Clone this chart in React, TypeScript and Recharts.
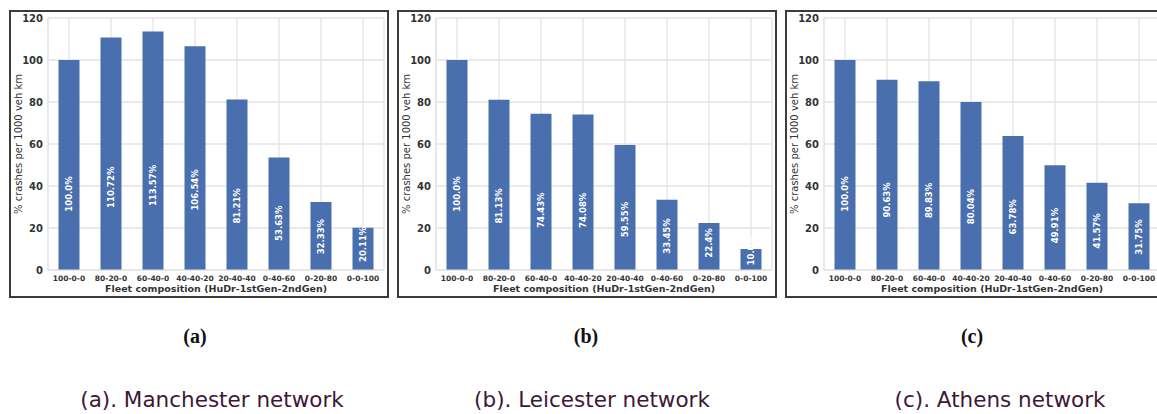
import React from 'react';
import { BarChart, Bar, XAxis, YAxis, CartesianGrid, LabelList } from 'recharts';

const categories = ['100-0-0', '80-20-0', '60-40-0', '40-40-20', '20-40-40', '0-40-60', '0-20-80', '0-0-100'];

const manchesterValues = [100.0, 110.72, 113.57, 106.54, 81.21, 53.63, 32.33, 20.11];
const manchesterLabels = ['100.0%', '110.72%', '113.57%', '106.54%', '81.21%', '53.63%', '32.33%', '20.11%'];

const leicesterValues = [100.0, 81.13, 74.43, 74.08, 59.55, 33.45, 22.4, 10.0];
const leicesterLabels = ['100.0%', '81.13%', '74.43%', '74.08%', '59.55%', '33.45%', '22.4%', '10.0%'];

const athensValues = [100.0, 90.63, 89.83, 80.04, 63.78, 49.91, 41.57, 31.75];
const athensLabels = ['100.0%', '90.63%', '89.83%', '80.04%', '63.78%', '49.91%', '41.57%', '31.75%'];

const yTicks = [0, 20, 40, 60, 80, 100, 120];

const FONT = '"DejaVu Sans", Verdana, sans-serif';
const BAR_COLOR = '#4a6fae';
const GRID = '#e3e3e3';

const buildData = (values: number[], labels: string[]) =>
  categories.map((c, i) => ({ name: c, value: values[i], label: labels[i] }));

// rotated white label sitting in the lower part of each bar
const BarText = (props: any) => {
  const { x, y, width, height, value } = props;
  const cx = x + width / 2;
  const cy = y + height - (0.3 * height + 13);
  return (
    <text
      x={cx}
      y={cy}
      transform={`rotate(-90 ${cx} ${cy})`}
      textAnchor="middle"
      dominantBaseline="central"
      fill="#ffffff"
      fontSize={8.5}
      fontWeight={600}
      fontFamily={FONT}
    >
      {value}
    </text>
  );
};

const Panel: React.FC<{ left: number; values: number[]; labels: string[] }> = ({ left, values, labels }) => {
  const data = buildData(values, labels);
  return (
    <>
      <div style={{ position: 'absolute', left, top: 10 }}>
        <BarChart
          width={380}
          height={287}
          data={data}
          margin={{ top: 8, right: 5, left: 0, bottom: 0 }}
          barCategoryGap="25%"
        >
          <CartesianGrid stroke={GRID} strokeWidth={1.3} />
          <XAxis
            dataKey="name"
            height={27}
            tickLine={false}
            tickSize={4}
            tickMargin={2}
            axisLine={{ stroke: GRID }}
            interval={0}
            tick={{ fontSize: 7.5, fontWeight: 700, fill: '#333', fontFamily: FONT }}
            label={{
              value: 'Fleet composition (HuDr-1stGen-2ndGen)',
              position: 'insideBottom',
              offset: 5,
              style: { fontSize: 9.5, fontWeight: 700, fill: '#333', fontFamily: FONT },
            }}
          />
          <YAxis
            width={39}
            domain={[0, 120]}
            ticks={yTicks}
            tickLine={false}
            tickSize={3}
            tickMargin={2}
            axisLine={{ stroke: GRID }}
            tick={{ fontSize: 10, fontWeight: 700, fill: '#333', fontFamily: FONT }}
            label={{
              value: '% crashes per 1000 veh km',
              angle: -90,
              position: 'insideLeft',
              offset: 9,
              style: { textAnchor: 'middle', fontSize: 10, fontWeight: 500, fill: '#333', fontFamily: FONT },
            }}
          />
          <YAxis
            yAxisId="right"
            orientation="right"
            width={0}
            domain={[0, 120]}
            tick={false}
            tickLine={false}
            axisLine={{ stroke: GRID }}
          />
          <Bar dataKey="value" fill={BAR_COLOR} isAnimationActive={false}>
            <LabelList dataKey="label" content={BarText} />
          </Bar>
        </BarChart>
      </div>
      <div
        style={{
          position: 'absolute',
          left,
          top: 10,
          width: 380,
          height: 288,
          border: '2px solid #3c3c3c',
          boxSizing: 'border-box',
          pointerEvents: 'none',
        }}
      />
    </>
  );
};

const subStyle: React.CSSProperties = {
  position: 'absolute',
  top: 325,
  width: 80,
  textAlign: 'center',
  fontFamily: '"Liberation Serif", "Times New Roman", serif',
  fontWeight: 700,
  fontSize: 20,
  color: '#111',
};

const capStyle: React.CSSProperties = {
  position: 'absolute',
  top: 387,
  width: 360,
  textAlign: 'center',
  fontFamily: FONT,
  fontSize: 21.5,
  color: '#3d1838',
  whiteSpace: 'nowrap',
};

export default function App() {
  return (
    <div
      style={{
        position: 'absolute',
        left: 0,
        top: 0,
        width: 1157,
        height: 414,
        background: '#fff',
        overflow: 'hidden',
      }}
    >
      <Panel left={9} values={manchesterValues} labels={manchesterLabels} />
      <Panel left={397} values={leicesterValues} labels={leicesterLabels} />
      <Panel left={785} values={athensValues} labels={athensLabels} />

      <div style={{ ...subStyle, left: 195 - 40 }}>(a)</div>
      <div style={{ ...subStyle, left: 586 - 40 }}>(b)</div>
      <div style={{ ...subStyle, left: 972 - 40 }}>(c)</div>

      <div style={{ ...capStyle, left: 212 - 180 }}>(a). Manchester network</div>
      <div style={{ ...capStyle, left: 592 - 180 }}>(b). Leicester network</div>
      <div style={{ ...capStyle, left: 1000 - 180 }}>(c). Athens network</div>
    </div>
  );
}
